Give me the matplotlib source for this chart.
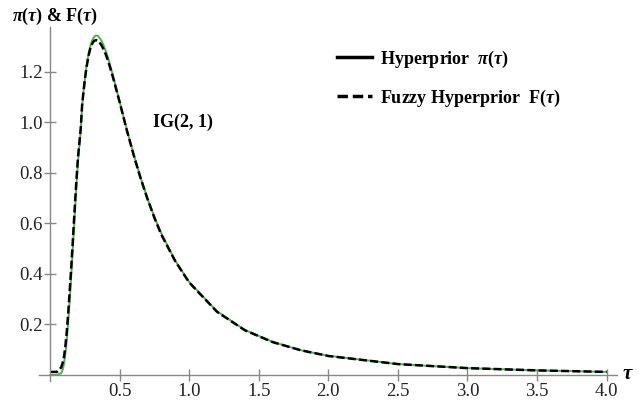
import matplotlib
matplotlib.use("Agg")
import matplotlib.pyplot as plt
from matplotlib.lines import Line2D

plt.rcParams['font.family'] = ['Liberation Serif', 'DejaVu Serif']
plt.rcParams['mathtext.fontset'] = 'custom'
plt.rcParams['mathtext.rm'] = 'Liberation Serif:bold'
plt.rcParams['mathtext.it'] = 'Liberation Serif:bold:italic'

# values
tau = [0.0, 0.05, 0.08, 0.09, 0.10, 0.11, 0.12, 0.13, 0.14, 0.15, 0.16, 0.17,
       0.18, 0.19, 0.20, 0.22, 0.23, 0.24, 0.25, 0.26, 0.27, 0.28, 0.29, 0.30,
       0.31, 0.32, 0.33, 0.34, 0.35, 0.37, 0.38, 0.40, 0.42, 0.45, 0.50, 0.55,
       0.60, 0.65, 0.70, 0.75, 0.80, 0.90, 1.00, 1.20, 1.40, 1.60, 1.80,
       2.00, 2.50, 3.00, 3.50, 4.00]
hyperprior = [0.0, 0.0, 0.007, 0.020, 0.045, 0.085, 0.139, 0.208, 0.288, 0.376,
              0.471, 0.568, 0.663, 0.755, 0.842, 0.967, 1.063, 1.121, 1.172,
              1.216, 1.251, 1.281, 1.304, 1.321, 1.333, 1.341, 1.344, 1.344,
              1.339, 1.323, 1.311, 1.283, 1.249, 1.189, 1.083, 0.975, 0.875,
              0.782, 0.699, 0.625, 0.560, 0.452, 0.368, 0.252, 0.178, 0.131,
              0.098, 0.076, 0.043, 0.027, 0.018, 0.012]
fuzzy = [0.012, 0.012, 0.030, 0.048, 0.072, 0.115, 0.172, 0.245, 0.325, 0.410,
         0.500, 0.595, 0.690, 0.778, 0.860, 0.975, 1.068, 1.122, 1.170,
         1.212, 1.245, 1.273, 1.294, 1.309, 1.319, 1.324, 1.326, 1.325,
         1.321, 1.305, 1.294, 1.270, 1.238, 1.183, 1.080, 0.972, 0.872,
         0.780, 0.697, 0.622, 0.555, 0.450, 0.366, 0.250, 0.177, 0.130,
         0.098, 0.075, 0.043, 0.027, 0.018, 0.012]

xticks = [0.5, 1.0, 1.5, 2.0, 2.5, 3.0, 3.5, 4.0]
yticks = [0.2, 0.4, 0.6, 0.8, 1.0, 1.2]

fig = plt.figure(figsize=(6.39, 4.0), dpi=100)
ax = fig.add_axes([0.061, 0.0475, 0.9045, 0.885])

ax.plot(tau, hyperprior, color='#4caf50', lw=1.4)
ax.plot(tau, fuzzy, color='black', lw=1.8, dashes=(3.2, 1.3))

ax.set_xlim(-0.08, 4.075)
ax.set_ylim(-0.024, 1.378)

for side in ['top', 'right']:
    ax.spines[side].set_visible(False)
ax.spines['left'].set_position(('data', 0))
ax.spines['bottom'].set_position(('data', 0))
for side in ['left', 'bottom']:
    ax.spines[side].set_color('#888888')
    ax.spines[side].set_linewidth(1.0)

ax.set_xticks(xticks)
ax.set_xticklabels(['%.1f' % v for v in xticks])
ax.set_yticks(yticks)
ax.set_yticklabels(['%.1f' % v for v in yticks])
ax.tick_params(direction='inout', length=9, width=1.0, color='#888888',
               labelsize=13.5, labelcolor='#222222', pad=1)

ax.text(4.11, 0.0, r'$\tau$', fontsize=15, va='center', ha='left')
fig.text(12 / 639, 1 - 16 / 400, r'$\pi(\tau)$ & F$(\tau)$', fontsize=13,
         fontweight='bold', va='center', ha='left')
ax.text(0.74, 1.0, 'IG(2, 1)', fontsize=13, fontweight='bold', va='center', ha='left')

handles = [Line2D([], [], color='black', lw=2.5),
           Line2D([], [], color='black', lw=2.5, dashes=(3.0, 1.4))]
labels = [r'Hyperprior  $\pi(\tau)$', r'Fuzzy Hyperprior  F$(\tau)$']
leg = ax.legend(handles, labels, loc='upper left', bbox_to_anchor=(0.487, 0.985),
                frameon=False, handlelength=1.95, handletextpad=0.45,
                labelspacing=1.0, prop={'size': 13, 'weight': 'bold'})

fig.savefig('out.png', dpi=100)
